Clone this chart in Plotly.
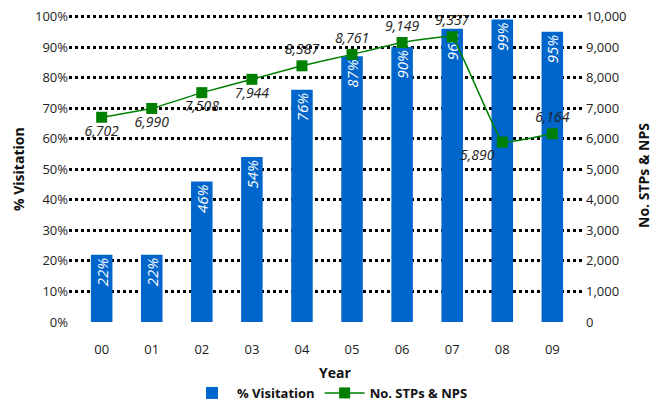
import plotly.graph_objects as go

years = ["00", "01", "02", "03", "04", "05", "06", "07", "08", "09"]
visitation = [0.22, 0.22, 0.46, 0.54, 0.76, 0.87, 0.90, 0.96, 0.99, 0.95]
stps_nps = [6702, 6990, 7508, 7944, 8387, 8761, 9149, 9337, 5890, 6164]
label_pos = ["bottom center", "bottom center", "bottom center", "bottom center",
             "top center", "top center", "top center", "top center",
             "bottom left", "top center"]

FONT = "Open Sans"
# page body has an 8px margin: lay out in window coordinates, shifted by 8
OFF = 8
W, H = 660 - OFF, 403 - OFF
L, R, T, B = 69 - OFF, 660 - 585, 7, 403 - 322
PW, PH = W - L - R, H - T - B
TOPPAD = 1.005


def px_x(x):  # window pixel -> paper fraction
    return (x - OFF - L) / PW


def px_y(y):
    return (H - B - (y - OFF)) / PH


fig = go.Figure()
fig.add_trace(go.Bar(
    x=years, y=visitation, name="% Visitation",
    marker=dict(color="#0066CC", line=dict(width=0)),
    width=0.43,
    text=[f"<i>{round(v*100)}%</i>" for v in visitation],
    textposition="inside", insidetextanchor="end", textangle=-90,
    textfont=dict(color="white", size=15, family=FONT),
    yaxis="y",
))
fig.add_trace(go.Scatter(
    x=years, y=stps_nps, name="No. STPs & NPS",
    mode="lines+markers+text",
    line=dict(color="#008000", width=1.5, shape="spline", smoothing=0.2),
    marker=dict(symbol="square", size=11, color="#008000"),
    text=[f"<i>{v:,}</i>" for v in stps_nps],
    textposition=label_pos,
    textfont=dict(color="#222222", size=14, family=FONT),
    cliponaxis=False,
    yaxis="y2",
))

fig.update_layout(
    width=W, height=H,
    margin=dict(l=L, r=R, t=T, b=B, autoexpand=False),
    paper_bgcolor="white", plot_bgcolor="white",
    font=dict(family=FONT, size=13, color="#222222"),
    uniformtext=dict(minsize=15, mode="show"),
    showlegend=True,
    legend=dict(orientation="h", x=px_x(330), xanchor="center", y=px_y(393), yanchor="middle",
                font=dict(size=13, family=FONT, color="#111111", weight="bold"),
                itemwidth=40),
    bargap=0.5,
    xaxis=dict(
        type="category", showgrid=False, zeroline=False, showline=False,
        ticks="", tickfont=dict(size=13), ticklabelstandoff=18, automargin=False,
    ),
    yaxis=dict(
        range=[0, TOPPAD], tick0=0, dtick=0.1, tickformat=".0%", automargin=False,
        ticklabeloverflow="allow",
        showgrid=True, gridcolor="black", gridwidth=2.5, griddash="dot",
        zeroline=False, showline=False, ticks="", tickfont=dict(size=13),
    ),
    yaxis2=dict(
        range=[0, 10000 * TOPPAD], tick0=0, dtick=1000, tickformat=",", automargin=False,
        ticklabeloverflow="allow",
        overlaying="y", side="right", showgrid=False, zeroline=False, showline=False,
        ticks="", tickfont=dict(size=13),
    ),
    annotations=[
        dict(text="<b>Year</b>", xref="paper", yref="paper", x=px_x(335), y=px_y(372),
             xanchor="center", yanchor="middle", showarrow=False,
             font=dict(size=14, color="#111111", family=FONT)),
        dict(text="<b>% Visitation</b>", xref="paper", yref="paper", x=px_x(18), y=px_y(169),
             xanchor="center", yanchor="middle", textangle=-90, showarrow=False,
             font=dict(size=14, color="#111111", family=FONT)),
        dict(text="<b>No. STPs & NPS</b>", xref="paper", yref="paper", x=px_x(643), y=px_y(176),
             xanchor="center", yanchor="middle", textangle=-90, showarrow=False,
             font=dict(size=14, color="#111111", family=FONT)),
    ],
)

fig.write_html("out.html")
